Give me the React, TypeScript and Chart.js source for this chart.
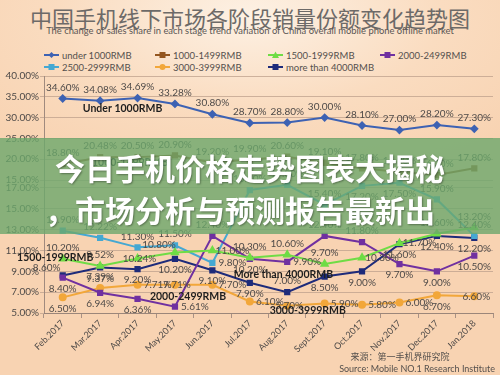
import React, { useEffect, useRef } from 'react';
import { Chart, registerables } from 'chart.js';
Chart.register(...registerables);

// ---------- data ----------
const categories = ['Feb.2017', 'Mar.2017', 'Apr.2017', 'May.2017', 'Jun.2017', 'Jul.2017', 'Aug.2017', 'Sept.2017', 'Oct.2017', 'Nov.2017', 'Dec.2017', 'Jan.2018'];

const seriesNames = ['under 1000RMB', '1000-1499RMB', '1500-1999RMB', '2000-2499RMB', '2500-2999RMB', '3000-3999RMB', 'more than 4000RMB'];

const under1000 = [34.6, 34.08, 34.69, 33.28, 30.8, 28.7, 28.8, 30.0, 28.1, 27.0, 28.2, 27.3];
const r1000to1499 = [18.8, 20.48, 20.5, 20.9, 19.2, 19.9, 20.6, 19.1, 17.8, 16.9, 16.2, 17.8];
const r1500to1999 = [10.2, 9.52, 10.24, 10.8, 11.0, 10.3, 10.6, 9.7, 10.3, 11.7, 12.6, 13.2];
const r2000to2499 = [8.4, 6.94, 6.36, 5.61, 12.4, 10.2, 9.9, 12.4, 11.8, 9.7, 9.0, 10.5];
const r2500to2999 = [12.9, 12.22, 11.3, 11.5, 9.8, 16.8, 17.3, 15.4, 17.2, 17.5, 15.9, 12.4];
const r3000to3999 = [6.5, 7.39, 7.71, 7.71, 7.7, 6.1, 5.7, 5.9, 5.8, 6.0, 6.7, 6.6];
const over4000 = [8.6, 9.37, 9.2, 10.2, 9.1, 7.9, 7.0, 8.5, 9.0, 11.6, 12.4, 12.2];

const upperTicks = [15, 20, 25, 30, 35, 40];
const lowerTicks = [5, 7, 9, 11, 13, 15, 17];

// ---------- styling ----------
const colors = ['#3d62b3', '#94561f', '#6fdc45', '#7030a0', '#45a8d2', '#f2a73a', '#1e2b7a'];
const pointStyles = ['rectRot', 'rect', 'triangle', 'rect', 'rect', 'circle', 'rect'];
const axisIds = ['yTop', 'yTop', 'yBot', 'yBot', 'yBot', 'yBot', 'yBot'];

// label placement codes per series (a=above, b=below, r=right, l=left, c=centre)
const placements = [
  'aaaaaaaaaaaa',
  'aaaaaaaaaaaa',
  'aacLraaarraa',
  'bbbrabraabbb',
  'aaaaraaabbaa',
  'barcrrcrrrbc',
  'Lbbbbbabbbbb',
];
const OFF: Record<string, [number, number]> = {
  a: [0, -11], b: [0, 11], r: [20, 0], l: [-20, 0], c: [2, 0], L: [-16, -8],
};

// series name annotations: [text, categoryIndex, value, axis]
const seriesNotes: [string, number, number, string][] = [
  ['Under 1000RMB', 1.6, 32.2, 'yTop'],
  ['1000-1499RMB', 1.8, 19.1, 'yTop'],
  ['1500-1999RMB', -0.2, 10.3, 'yBot'],
  ['More than 4000RMB', 5.9, 8.65, 'yBot'],
  ['2000-2499RMB', 3.35, 6.6, 'yBot'],
  ['3000-3999RMB', 6.55, 5.2, 'yBot'],
];

const FONT = 'Lato, "Liberation Sans", sans-serif';
const CJK = '"Noto Sans CJK SC", sans-serif';
const textColor = '#4e4a48';
const gridColor = 'rgba(190,160,140,0.75)';

const labelPlugin = {
  id: 'pctLabels',
  afterDatasetsDraw(chart: any) {
    const ctx = chart.ctx;
    ctx.save();
    ctx.font = `10px ${FONT}`;
    ctx.fillStyle = textColor;
    ctx.textAlign = 'center';
    ctx.textBaseline = 'middle';
    chart.data.datasets.forEach((ds: any, i: number) => {
      const meta = chart.getDatasetMeta(i);
      meta.data.forEach((pt: any, j: number) => {
        const [dx, dy] = OFF[placements[i][j]] || OFF.a;
        ctx.fillText(Number(ds.data[j]).toFixed(2) + '%', pt.x + dx, pt.y + dy);
      });
    });
    ctx.font = `bold 10.5px ${FONT}`;
    ctx.fillStyle = '#1e1e1e';
    const xs = chart.scales.x;
    const step = xs.getPixelForValue(1) - xs.getPixelForValue(0);
    seriesNotes.forEach(([t, idx, v, ax]) => {
      const x = xs.getPixelForValue(0) + idx * step;
      const y = chart.scales[ax].getPixelForValue(v);
      ctx.fillText(t, x, y);
    });
    ctx.restore();
  },
};

function LegendMark({ i }: { i: number }) {
  const c = colors[i];
  const s = pointStyles[i];
  let shape: any;
  if (s === 'rectRot') shape = <polygon points="7.5,1 10.5,4 7.5,7 4.5,4" fill={c} />;
  else if (s === 'triangle') shape = <polygon points="7.5,0.5 11,7 4,7" fill={c} />;
  else if (s === 'circle') shape = <circle cx="7.5" cy="4" r="3" fill={c} />;
  else shape = <rect x="4.5" y="1" width="6" height="6" fill={c} />;
  return (
    <svg width="15" height="8" style={{ display: 'block' }}>
      <line x1="0" y1="4" x2="15" y2="4" stroke={c} strokeWidth="2" />
      {shape}
    </svg>
  );
}

const legendCols = [44, 155, 268, 380];
const legendRows = [55, 67];

const yTickOpts = {
  padding: 1,
  autoSkip: false,
  font: { family: FONT, size: 10 },
  color: textColor,
  callback: (v: any) => Number(v).toFixed(2) + '%',
};

export default function App() {
  const canvasRef = useRef<HTMLCanvasElement>(null);

  useEffect(() => {
    document.body.style.margin = '0';
    const all = [under1000, r1000to1499, r1500to1999, r2000to2499, r2500to2999, r3000to3999, over4000];
    const chart = new Chart(canvasRef.current!, {
      type: 'line',
      data: {
        labels: categories,
        datasets: all.map((d, i) => ({
          label: seriesNames[i],
          data: d,
          yAxisID: axisIds[i],
          borderColor: colors[i],
          backgroundColor: colors[i],
          pointBackgroundColor: colors[i],
          pointBorderColor: colors[i],
          pointStyle: pointStyles[i] as any,
          pointRadius: pointStyles[i] === 'triangle' ? 3.5 : 3,
          borderWidth: 2,
          tension: 0,
          clip: false as any,
        })),
      },
      options: {
        animation: false,
        responsive: false,
        maintainAspectRatio: false,
        layout: { padding: { top: 76, right: 7, left: 0, bottom: 0 } },
        plugins: { legend: { display: false }, title: { display: false }, tooltip: { enabled: false } },
        scales: {
          x: {
            type: 'category',
            offset: true,
            afterFit: (s: any) => { s.height = 62; },
            grid: { display: true, offset: true, drawOnChartArea: false, tickLength: 5, color: 'rgba(150,130,120,0.8)' },
            border: { display: true, color: 'rgba(150,130,120,0.9)' },
            ticks: { minRotation: 45, maxRotation: 45, autoSkip: false, padding: 0, font: { family: FONT, size: 9 }, color: textColor },
          },
          yTop: {
            type: 'linear',
            position: 'left',
            stack: 'ystack',
            stackWeight: 108,
            weight: 1,
            min: 14.04,
            max: 40,
            afterBuildTicks: (s: any) => { s.ticks = upperTicks.map((v) => ({ value: v })); },
            afterFit: (s: any) => { s.width = 44; },
            ticks: yTickOpts,
            grid: { color: gridColor, tickLength: 4 },
            border: { display: true, color: 'rgba(150,130,120,0.9)' },
          },
          yBot: {
            type: 'linear',
            position: 'left',
            stack: 'ystack',
            stackWeight: 129,
            weight: 0,
            min: 5,
            max: 17.38,
            afterBuildTicks: (s: any) => { s.ticks = lowerTicks.map((v) => ({ value: v })); },
            afterFit: (s: any) => { s.width = 44; },
            ticks: yTickOpts,
            grid: { color: gridColor, tickLength: 4 },
            border: { display: true, color: 'rgba(150,130,120,0.9)' },
          },
        } as any,
      },
      plugins: [labelPlugin],
    });
    return () => chart.destroy();
  }, []);

  return (
    <div
      style={{
        position: 'relative',
        width: 500,
        height: 375,
        overflow: 'hidden',
        background: 'radial-gradient(ellipse 70% 45% at 50% 4%, #fdf1e4 0%, #fadcc0 55%, #f8d3b2 100%)',
      }}
    >
      <div style={{ position: 'absolute', left: 0, top: 3, width: 500, textAlign: 'center', font: `22px ${CJK}`, color: '#6d6a68', lineHeight: '28px', letterSpacing: 0 }}>
        中国手机线下市场各阶段销量份额变化趋势图
      </div>
      <div style={{ position: 'absolute', left: 0, top: 25, width: 500, textAlign: 'center', font: `9.4px ${FONT}`, color: '#5a5654', lineHeight: '12px' }}>
        The change of sales share in each stage trend variation of China overall mobile phone offline market
      </div>
      {seriesNames.map((n, i) => (
        <div key={n} style={{ position: 'absolute', left: legendCols[i % 4], top: legendRows[Math.floor(i / 4)] - 6, height: 12, display: 'flex', alignItems: 'center' }}>
          <LegendMark i={i} />
          <span style={{ marginLeft: 3, font: `9.5px ${FONT}`, color: '#55504d', whiteSpace: 'nowrap' }}>{n}</span>
        </div>
      ))}
      <canvas ref={canvasRef} width={500} height={375} style={{ position: 'absolute', left: 0, top: 0 }} />
      <div style={{ position: 'absolute', left: 0, top: 138, width: 500, height: 96, background: 'rgba(108,168,108,0.8)' }} />
      <div style={{ position: 'absolute', left: 0, top: 147, width: 500, textAlign: 'center', font: `bold 30px ${CJK}`, color: '#ffffff', lineHeight: '40px', textShadow: '1px 1px 2px rgba(0,0,0,0.35)' }}>
        今日手机价格走势图表大揭秘
      </div>
      <div style={{ position: 'absolute', left: -10, top: 189, width: 500, textAlign: 'center', font: `bold 30px ${CJK}`, color: '#ffffff', lineHeight: '40px', textShadow: '1px 1px 2px rgba(0,0,0,0.35)' }}>
        ，市场分析与预测报告最新出
      </div>
      <div style={{ position: 'absolute', left: 300, top: 351, width: 200, textAlign: 'center', font: `9px ${CJK}`, color: '#55504d', lineHeight: '12px' }}>
        来源：第一手机界研究院
      </div>
      <div style={{ position: 'absolute', left: 300, top: 363, width: 195, textAlign: 'right', font: `9px ${FONT}`, color: '#55504d', lineHeight: '12px' }}>
        Source: Mobile NO.1 Research Institute
      </div>
    </div>
  );
}
